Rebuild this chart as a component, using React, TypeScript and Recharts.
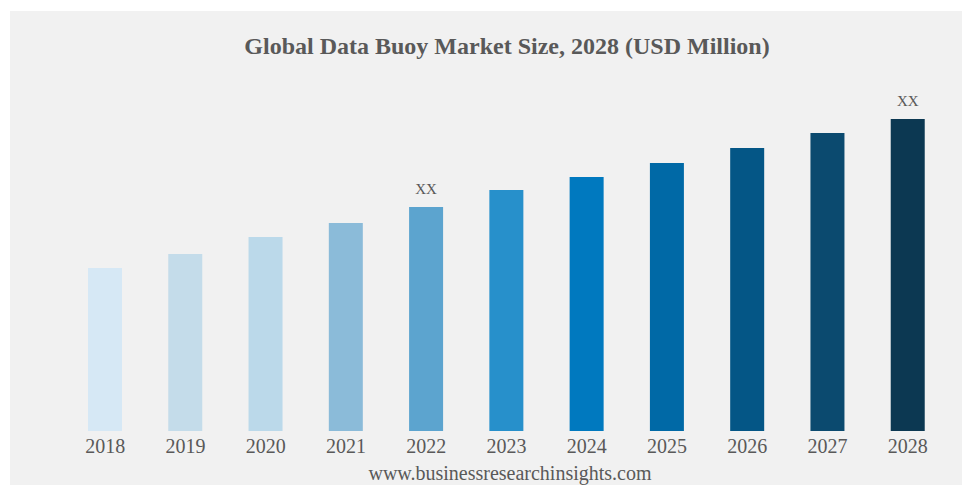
import { Bar, BarChart, Cell, LabelList, XAxis, YAxis } from "recharts";

const years = ["2018", "2019", "2020", "2021", "2022", "2023", "2024", "2025", "2026", "2027", "2028"];
const marketSize = [163, 177, 194, 208, 224, 241, 254, 268, 283, 298, 312];
const notes = ["", "", "", "", "XX", "", "", "", "", "", "XX"];

const colors = [
  "#d6e8f5",
  "#c4dcea",
  "#bbd9ea",
  "#8bbbd9",
  "#5ca4cf",
  "#2790cb",
  "#0079bf",
  "#0069a6",
  "#045686",
  "#0b4a6f",
  "#0c3852",
];

const data = years.map((year, i) => ({
  year,
  value: marketSize[i],
  note: notes[i],
}));

const serif = '"Liberation Serif", "Times New Roman", serif';

const App = () => {
  return (
    <div
      style={{
        position: "absolute",
        left: 10,
        top: 11,
        width: 952,
        height: 474,
        background: "#f1f1f1",
        overflow: "hidden",
        fontFamily: serif,
      }}
    >
      <div
        style={{
          position: "absolute",
          left: 0,
          width: 994,
          top: 22,
          textAlign: "center",
          fontSize: 24,
          lineHeight: 1.15,
          fontWeight: "bold",
          color: "#595959",
        }}
      >
        Global Data Buoy Market Size, 2028 (USD Million)
      </div>
      <BarChart
        width={952}
        height={474}
        data={data}
        margin={{ top: 60, right: 14, left: 55, bottom: 24 }}
        barCategoryGap={46}
      >
        <YAxis hide domain={[0, 360]} />
        <XAxis
          dataKey="year"
          axisLine={false}
          tickLine={false}
          height={30}
          interval={0}
          tick={{ fill: "#595959", fontSize: 20, fontFamily: serif }}
        />
        <Bar dataKey="value" barSize={34} isAnimationActive={false}>
          {data.map((d, i) => (
            <Cell key={d.year} fill={colors[i]} />
          ))}
          <LabelList
            dataKey="note"
            position="top"
            offset={13}
            style={{ fill: "#595959", fontSize: 15, fontFamily: serif }}
          />
        </Bar>
      </BarChart>
      <div
        style={{
          position: "absolute",
          left: 0,
          width: 1000,
          top: 452,
          textAlign: "center",
          fontSize: 20,
          lineHeight: 1,
          color: "#595959",
        }}
      >
        www.businessresearchinsights.com
      </div>
    </div>
  );
};

export default App;
